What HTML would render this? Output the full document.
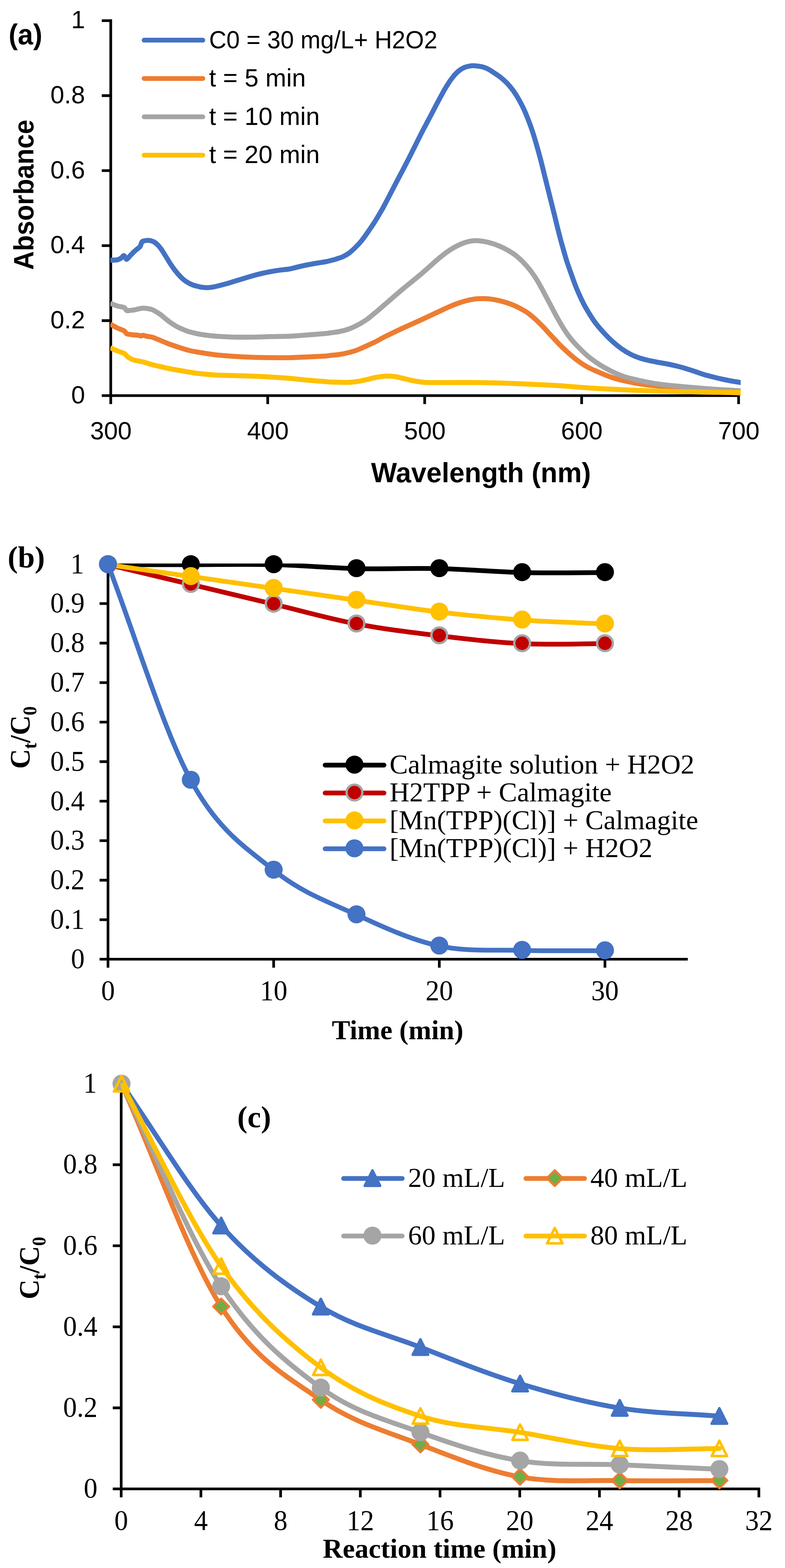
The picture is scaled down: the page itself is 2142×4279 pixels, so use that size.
<!DOCTYPE html>
<html lang="en"><head><meta charset="utf-8"><title>Absorbance spectra and degradation kinetics</title>
<style>html,body{margin:0;padding:0;background:#fff}svg{display:block}.sa{font-family:"Liberation Sans",sans-serif;fill:#000}.se{font-family:"Liberation Serif",serif;fill:#000}.b{font-weight:bold}.ln{fill:none;stroke-linejoin:round;stroke-linecap:butt}.lr{fill:none;stroke-linejoin:round;stroke-linecap:round}.lg{fill:none;stroke-linecap:round}.ax{stroke:#000;fill:none}</style></head><body>
<svg width="2142" height="4279" viewBox="0 0 2142 4279" role="img" aria-label="Three charts: absorbance spectra, and two degradation kinetics plots">
<rect width="2142" height="4279" fill="#fff"/>
<g id="chart-a">
<clipPath id="clipA"><rect x="301" y="0" width="1720" height="1200"/></clipPath>
<g class="ax" stroke-width="7.3">
<path d="M302.2 52.6 V1102.7M277.7 1079.7 H2019.1M277.7 56.3 H302.2M277.7 261 H302.2M277.7 465.7 H302.2M277.7 670.3 H302.2M277.7 875 H302.2M730.5 1079.7 V1102.7M1158.8 1079.7 V1102.7M1587.1 1079.7 V1102.7M2015.4 1079.7 V1102.7"/>
</g>
<g class="sa" font-size="68" text-anchor="end">
<text x="232" y="77.3">1</text>
<text x="232" y="282">0.8</text>
<text x="232" y="486.7">0.6</text>
<text x="232" y="691.3">0.4</text>
<text x="232" y="896">0.2</text>
<text x="232" y="1100.7">0</text>
</g>
<g class="sa" font-size="68" text-anchor="middle">
<text x="302.7" y="1198.5">300</text>
<text x="731" y="1198.5">400</text>
<text x="1159.3" y="1198.5">500</text>
<text x="1587.6" y="1198.5">600</text>
<text x="2015.9" y="1198.5">700</text>
</g>
<g class="ln" stroke-width="13.6" clip-path="url(#clipA)">
<path stroke="#4472C4" d="M301 710C304.2 709.8 315 710 320 709C325 708 328.1 705.9 331 704C333.9 702.1 335.7 697.8 337.5 697.5C339.3 697.2 340.6 700.3 342 702C343.4 703.7 343.8 708.2 346 707.5C348.2 706.8 351.8 701.3 355 698C358.2 694.7 361.7 690.7 365 687.5C368.3 684.3 372.1 681.5 375 679C377.9 676.5 380.4 675.7 382.5 672.5C384.6 669.3 385.4 662.6 387.5 660C389.6 657.4 392.5 657.7 395 657C397.5 656.3 400 656.1 402.5 656C405 655.9 407.1 655.8 410 656.5C412.9 657.2 416.7 658.1 420 660C423.3 661.9 426.7 664.7 430 668C433.3 671.3 436.3 674.8 440 680C443.7 685.2 447.8 692.3 452 699C456.2 705.7 460.8 713.7 465 720C469.2 726.3 472.8 731.6 477 737C481.2 742.4 485.8 748 490 752.5C494.2 757 497.8 760.7 502 764C506.2 767.3 510.8 770.2 515 772.5C519.2 774.8 522.8 776.5 527 778C531.2 779.5 535.8 780.5 540 781.5C544.2 782.5 547.8 783.4 552 784C556.2 784.6 560.8 785 565 785C569.2 785 572.8 784.6 577 784C581.2 783.4 583.7 783 590 781.5C596.3 780 606.7 777.3 615 775C623.3 772.7 631.7 770 640 767.5C648.3 765 656.7 762.5 665 760C673.3 757.5 681.7 754.8 690 752.5C698.3 750.2 706.7 747.9 715 746C723.3 744.1 731.7 742.5 740 741C748.3 739.5 756.7 738.2 765 737C773.3 735.8 781.7 735.5 790 734C798.3 732.5 806.7 729.9 815 728C823.3 726.1 831.7 724.2 840 722.5C848.3 720.8 856.7 719.4 865 718C873.3 716.6 882.2 715.6 890 714C897.8 712.4 907 709.8 912 708.5C917 707.2 915.9 707.4 920 706C924.1 704.6 931.2 702.7 936.7 700C942.2 697.3 947.8 694.2 953.3 690C958.8 685.8 964.4 680.5 970 675C975.6 669.5 981.2 663.5 986.7 656.7C992.2 649.9 997.8 641.9 1003.3 634C1008.8 626.1 1014.4 618 1020 609.3C1025.6 600.6 1031.9 589.9 1036.7 581.7C1041.5 573.5 1041.5 574.2 1049 560C1056.5 545.8 1071 517.6 1082 496.5C1093 475.4 1103.7 455.5 1115 433.3C1126.3 411.1 1141.4 380.2 1150 363.3C1158.6 346.4 1161.2 342.2 1166.7 331.7C1172.2 321.1 1177.8 310.6 1183.3 300C1188.8 289.4 1194.4 278.6 1200 268.3C1205.6 258 1211.2 247.5 1216.7 238.3C1222.2 229.1 1227.8 220.5 1233.3 213.3C1238.8 206.1 1244.4 199.8 1250 195C1255.6 190.2 1261.2 186.8 1266.7 184.3C1272.2 181.8 1278.9 180.8 1283.3 180C1287.7 179.2 1287.7 178.9 1293.3 179.3C1298.9 179.8 1310 181 1316.7 182.7C1323.4 184.4 1327.8 186.4 1333.3 189.3C1338.8 192.2 1344.4 196.3 1350 200C1355.6 203.7 1361.2 207.2 1366.7 211.7C1372.2 216.1 1377.8 220.9 1383.3 226.7C1388.8 232.5 1394.4 238.9 1400 246.7C1405.6 254.5 1411.2 263.3 1416.7 273.3C1422.2 283.3 1427.8 293.9 1433.3 306.7C1438.8 319.5 1445.1 336.1 1450 350C1454.9 363.9 1458.3 375.8 1462.5 390C1466.7 404.2 1470.8 419.2 1475 435C1479.2 450.8 1483.3 468.3 1487.5 485C1491.7 501.7 1495.8 518.3 1500 535C1504.2 551.7 1508.9 570.5 1512.5 585C1516.1 599.5 1518.6 610.3 1521.5 622C1524.4 633.7 1527.4 645.3 1530 655C1532.6 664.7 1534.2 670.2 1537 680C1539.8 689.8 1543.2 702.3 1547 714C1550.8 725.7 1555.3 738.3 1559.5 750C1563.7 761.7 1567.8 773.6 1572 784C1576.2 794.4 1580.3 803.6 1584.5 812.5C1588.7 821.4 1590.8 826.7 1597 837.5C1603.2 848.3 1613.7 865.8 1622 877.5C1630.3 889.2 1638.7 898.3 1647 907.5C1655.3 916.7 1663.7 925 1672 932.5C1680.3 940 1688.7 946.7 1697 952.5C1705.3 958.3 1713.7 963.3 1722 967.5C1730.3 971.7 1738.7 974.8 1747 977.5C1755.3 980.2 1763.7 982.1 1772 984C1780.3 985.9 1788.7 987.4 1797 989C1805.3 990.6 1813.7 991.8 1822 993.5C1830.3 995.2 1838.7 996.9 1847 999C1855.3 1001.1 1863.7 1003.5 1872 1006C1880.3 1008.5 1888.7 1011.2 1897 1014C1905.3 1016.8 1913.7 1020 1922 1022.5C1930.3 1025 1938.7 1026.9 1947 1029C1955.3 1031.1 1963.7 1033.2 1972 1035C1980.3 1036.8 1988.7 1038.5 1997 1040C2005.3 1041.5 2017.8 1043.3 2022 1044"/>
<path stroke="#ED7D31" d="M301 884.5C304.2 886.2 314.3 892.2 320 895C325.7 897.8 331.7 899.5 335 901C338.3 902.5 338.2 902.3 340 904C341.8 905.7 343.5 909.6 346 911C348.5 912.4 351.8 912 355 912.5C358.2 913 361.2 913.6 365 914C368.8 914.4 374.8 914.5 378 915C381.2 915.5 382 917 384 917C386 917 387 914.8 390 915C393 915.2 397.8 917.2 402 918C406.2 918.8 410.7 918.8 415 920C419.3 921.2 423.8 923.3 428 925C432.2 926.7 436 928.3 440 930C444 931.7 447.8 933.3 452 935C456.2 936.7 458.7 937.8 465 940C471.3 942.2 481.7 945.8 490 948.5C498.3 951.2 506.7 953.9 515 956C523.3 958.1 527.5 958.9 540 961C552.5 963.1 573.3 966.6 590 968.5C606.7 970.4 623.3 971.4 640 972.5C656.7 973.6 673.3 974.4 690 975C706.7 975.6 723.3 975.8 740 976C756.7 976.2 773.3 976.3 790 976C806.7 975.7 823.3 974.8 840 974C856.7 973.2 880 972.2 890 971.5C900 970.8 894.2 970.7 900 970C905.8 969.3 916.7 968.8 925 967.5C933.3 966.2 941.7 964.6 950 962.5C958.3 960.4 966.7 958.1 975 955C983.3 951.9 991.7 947.8 1000 944C1008.3 940.2 1016.7 936.7 1025 932.5C1033.3 928.3 1037.5 925.2 1050 919C1062.5 912.8 1083.3 902.8 1100 895C1116.7 887.2 1133.3 880.2 1150 872.5C1166.7 864.8 1187.5 854.8 1200 849C1212.5 843.2 1216.7 841.1 1225 837.5C1233.3 833.9 1241.7 830.4 1250 827.5C1258.3 824.6 1266.7 822 1275 820C1283.3 818 1290.3 816.2 1300 815.5C1309.7 814.8 1322.2 814.5 1333.3 815.5C1344.4 816.5 1355.6 818.9 1366.7 821.7C1377.8 824.5 1388.9 827.9 1400 832.5C1411.1 837.1 1425 844.6 1433.3 849.5C1441.6 854.4 1444.4 857.2 1450 861.7C1455.6 866.2 1461.2 871.4 1466.7 876.7C1472.2 882 1477.8 887.5 1483.3 893.3C1488.8 899.1 1494.4 905.7 1500 911.7C1505.6 917.7 1511.2 923.7 1516.7 929.5C1522.2 935.3 1525 938.8 1533.3 946.7C1541.6 954.6 1555.6 967.8 1566.7 976.7C1577.8 985.6 1588.9 993.5 1600 1000C1611.1 1006.5 1622.2 1010.7 1633.3 1015.5C1644.4 1020.3 1655.6 1025.2 1666.7 1029C1677.8 1032.8 1688.9 1035.8 1700 1038.5C1711.1 1041.2 1722.2 1043.5 1733.3 1045.5C1744.4 1047.5 1755.6 1049.1 1766.7 1050.5C1777.8 1051.9 1789.5 1052.5 1800 1054C1810.5 1055.5 1813.8 1057.7 1830 1059.5C1846.2 1061.3 1877.5 1063.3 1897 1065C1916.5 1066.7 1926.2 1068.2 1947 1069.5C1967.8 1070.8 2009.5 1072 2022 1072.5"/>
<path stroke="#A5A5A5" d="M301 827.5C304.2 828.8 314.3 833.2 320 835C325.7 836.8 331.7 837.2 335 838C338.3 838.8 338.2 838.4 340 840C341.8 841.6 343.5 846.3 346 847.5C348.5 848.7 351.8 847.2 355 847C358.2 846.8 361.2 846.7 365 846C368.8 845.3 373.8 843.8 378 843C382.2 842.2 386 841.2 390 841C394 840.8 397.8 841.3 402 842C406.2 842.7 410.7 843.3 415 845C419.3 846.7 423.8 849.5 428 852C432.2 854.5 436 857 440 860C444 863 447.8 866.7 452 870C456.2 873.3 460.8 877 465 880C469.2 883 472.8 885.5 477 888C481.2 890.5 485.8 893 490 895C494.2 897 497.8 898.3 502 900C506.2 901.7 508.7 903.2 515 905C521.3 906.8 531.7 909.3 540 911C548.3 912.7 556.7 913.9 565 915C573.3 916.1 581.7 916.8 590 917.5C598.3 918.2 606.7 918.6 615 919C623.3 919.4 627.5 919.8 640 920C652.5 920.2 673.3 920.2 690 920C706.7 919.8 723.3 918.9 740 918.5C756.7 918.1 773.3 918.2 790 917.5C806.7 916.8 823.3 915.2 840 914C856.7 912.8 880 910.9 890 910C900 909.1 894.2 909.3 900 908.5C905.8 907.7 916.7 906.7 925 905C933.3 903.3 941.7 901.4 950 898.5C958.3 895.6 966.7 891.8 975 887.5C983.3 883.2 991.7 878.3 1000 872.5C1008.3 866.7 1016.7 859.4 1025 852.5C1033.3 845.6 1037.5 841.8 1050 831C1062.5 820.2 1083.3 802 1100 788C1116.7 774 1133.3 761.2 1150 747C1166.7 732.8 1187.5 713.5 1200 703C1212.5 692.5 1216.7 689.6 1225 684C1233.3 678.4 1241.7 673.5 1250 669.5C1258.3 665.5 1266.7 662.1 1275 660C1283.3 657.9 1290.3 656.4 1300 656.7C1309.7 657 1322.2 658.9 1333.3 661.7C1344.4 664.5 1355.6 668.3 1366.7 673.3C1377.8 678.3 1391.7 686.4 1400 691.7C1408.3 697 1411.2 700 1416.7 705C1422.2 710 1427.8 715.6 1433.3 721.7C1438.8 727.8 1444.4 734.2 1450 741.7C1455.6 749.2 1461.2 757.5 1466.7 766.7C1472.2 775.9 1477.8 786.4 1483.3 796.7C1488.8 807 1494.4 817.8 1500 828.3C1505.6 838.8 1511.2 849.9 1516.7 860C1522.2 870.1 1527.8 879.9 1533.3 889C1538.8 898.1 1544.4 906.8 1550 914.5C1555.6 922.2 1558.4 926 1566.7 935C1575 944 1588.9 958.6 1600 968.3C1611.1 978 1622.2 986 1633.3 993.3C1644.4 1000.6 1655.6 1006.7 1666.7 1012.3C1677.8 1017.9 1688.9 1022.8 1700 1026.7C1711.1 1030.6 1722.2 1033 1733.3 1035.7C1744.4 1038.4 1755.6 1040.9 1766.7 1043C1777.8 1045.1 1789.5 1047 1800 1048.5C1810.5 1050 1822.2 1051.2 1830 1052C1837.8 1052.8 1835.8 1052.5 1847 1053.5C1858.2 1054.5 1880.3 1056.6 1897 1058C1913.7 1059.4 1930.3 1060.8 1947 1062C1963.7 1063.2 1984.5 1064.2 1997 1065C2009.5 1065.8 2017.8 1066.2 2022 1066.5"/>
<path stroke="#FFC000" d="M301 949C304.2 950.4 314.3 955.2 320 957.5C325.7 959.8 331.7 961.8 335 963C338.3 964.2 337.5 963 340 965C342.5 967 345.8 972.1 350 975C354.2 977.9 358.3 980.4 365 982.5C371.7 984.6 381.7 985.4 390 987.5C398.3 989.6 406.7 992.8 415 995C423.3 997.2 431.7 999.1 440 1001C448.3 1002.9 456.7 1004.8 465 1006.5C473.3 1008.2 477.5 1008.9 490 1011C502.5 1013.1 523.3 1016.9 540 1019C556.7 1021.1 573.3 1022.5 590 1023.5C606.7 1024.5 623.3 1024.5 640 1025C656.7 1025.5 673.3 1025.8 690 1026.5C706.7 1027.2 723.3 1028 740 1029C756.7 1030 773.3 1031.1 790 1032.5C806.7 1033.9 823.3 1036 840 1037.5C856.7 1039 880 1040.7 890 1041.5C900 1042.3 894.2 1042.2 900 1042.5C905.8 1042.8 916.7 1042.8 925 1043C933.3 1043.2 941.7 1043.8 950 1043.5C958.3 1043.2 966.7 1042.2 975 1041C983.3 1039.8 991.7 1037.8 1000 1036C1008.3 1034.2 1016.7 1031.6 1025 1030C1033.3 1028.4 1043.3 1027.1 1050 1026.5C1056.7 1025.9 1060 1026.2 1065 1026.5C1070 1026.8 1074.2 1027 1080 1028C1085.8 1029 1092.5 1030.8 1100 1032.5C1107.5 1034.2 1116.7 1036.8 1125 1038.5C1133.3 1040.2 1141.7 1041.6 1150 1042.5C1158.3 1043.4 1150 1043.8 1175 1044C1200 1044.2 1262.5 1043.6 1300 1044C1337.5 1044.4 1366.7 1045.3 1400 1046.5C1433.3 1047.7 1475.5 1049.8 1500 1051C1524.5 1052.2 1530.8 1052.8 1547 1054C1563.2 1055.2 1580.3 1056.8 1597 1058C1613.7 1059.2 1630.3 1060.1 1647 1061C1663.7 1061.9 1680.3 1062.8 1697 1063.5C1713.7 1064.2 1730.3 1064.9 1747 1065.5C1763.7 1066.1 1780.3 1066.5 1797 1067C1813.7 1067.5 1830.3 1068.1 1847 1068.5C1863.7 1068.9 1880.3 1069.2 1897 1069.5C1913.7 1069.8 1926.2 1070.2 1947 1070.5C1967.8 1070.8 2009.5 1070.9 2022 1071"/>
</g>
<g class="lg" stroke-width="13">
<path stroke="#4472C4" d="M393.2 109.6 H553.5"/>
<path stroke="#ED7D31" d="M393.2 214.2 H553.5"/>
<path stroke="#A5A5A5" d="M393.2 318.8 H553.5"/>
<path stroke="#FFC000" d="M393.2 423.4 H553.5"/>
</g>
<g class="sa" font-size="68">
<text x="570.5" y="131.5" textLength="623" lengthAdjust="spacingAndGlyphs">C0 = 30 mg/L+ H2O2</text>
<text x="570.5" y="236" textLength="264" lengthAdjust="spacingAndGlyphs">t = 5 min</text>
<text x="570.5" y="340.5" textLength="302" lengthAdjust="spacingAndGlyphs">t = 10 min</text>
<text x="570.5" y="445" textLength="302" lengthAdjust="spacingAndGlyphs">t = 20 min</text>
</g>
<text class="sa b" font-size="77" x="23.5" y="120.5" textLength="92" lengthAdjust="spacingAndGlyphs">(a)</text>
<text class="sa b" font-size="76" text-anchor="middle" textLength="410" lengthAdjust="spacingAndGlyphs" transform="translate(90.5 531.5) rotate(-90)">Absorbance</text>
<text class="sa b" font-size="76" text-anchor="middle" x="1312.5" y="1316" textLength="600" lengthAdjust="spacingAndGlyphs">Wavelength (nm)</text>
</g>
<g id="chart-b">
<clipPath id="clipB"><rect x="292.5" y="1537.7" width="1900" height="1200"/></clipPath>
<g class="ax" stroke-width="7.3">
<path d="M294.7 1535.6 V2640.7M271.7 2617.7 H1876.7M271.7 1539.3 H294.7M271.7 1647.1 H294.7M271.7 1755 H294.7M271.7 1862.8 H294.7M271.7 1970.7 H294.7M271.7 2078.5 H294.7M271.7 2186.3 H294.7M271.7 2294.2 H294.7M271.7 2402 H294.7M271.7 2509.9 H294.7M746.7 2617.7 V2640.7M1198.7 2617.7 V2640.7M1650.7 2617.7 V2640.7"/>
</g>
<g class="se" font-size="75" text-anchor="end">
<text transform="translate(229.5 1563.5) scale(1 1.04)">1</text>
<text transform="translate(231 1671.3) scale(1 1.04)">0.9</text>
<text transform="translate(231 1779.2) scale(1 1.04)">0.8</text>
<text transform="translate(231 1887) scale(1 1.04)">0.7</text>
<text transform="translate(231 1994.9) scale(1 1.04)">0.6</text>
<text transform="translate(231 2102.7) scale(1 1.04)">0.5</text>
<text transform="translate(231 2210.5) scale(1 1.04)">0.4</text>
<text transform="translate(231 2318.4) scale(1 1.04)">0.3</text>
<text transform="translate(231 2426.2) scale(1 1.04)">0.2</text>
<text transform="translate(231 2534.1) scale(1 1.04)">0.1</text>
<text transform="translate(231 2641.9) scale(1 1.04)">0</text>
</g>
<g class="se" font-size="75" text-anchor="middle">
<text transform="translate(294.7 2729.3) scale(1 1.04)">0</text>
<text transform="translate(746.7 2729.3) scale(1 1.04)">10</text>
<text transform="translate(1198.7 2729.3) scale(1 1.04)">20</text>
<text transform="translate(1650.7 2729.3) scale(1 1.04)">30</text>
</g>
<path class="lr" stroke="#000" stroke-width="13" clip-path="url(#clipB)" d="M294.7 1540.9C370 1540.9 445.4 1540.9 520.7 1540.9C596 1540.9 671.4 1539.1 746.7 1540.9C822 1542.7 897.4 1549.9 972.7 1551.7C1048 1553.5 1123.4 1549.9 1198.7 1551.7C1274 1553.5 1349.4 1560.7 1424.7 1562.5C1500 1564.3 1575.4 1562.5 1650.7 1562.5"/>
<circle cx="294.7" cy="1539.7" r="24.6" fill="#000"/>
<circle cx="520.7" cy="1539.7" r="24.6" fill="#000"/>
<circle cx="746.7" cy="1539.7" r="24.6" fill="#000"/>
<circle cx="972.7" cy="1550.5" r="24.6" fill="#000"/>
<circle cx="1198.7" cy="1550.5" r="24.6" fill="#000"/>
<circle cx="1424.7" cy="1561.3" r="24.6" fill="#000"/>
<circle cx="1650.7" cy="1561.3" r="24.6" fill="#000"/>
<path class="lr" stroke="#C00000" stroke-width="13" clip-path="url(#clipB)" d="M294.7 1540.9C370 1558.9 445.4 1576.8 520.7 1594.8C596 1612.8 671.4 1630.8 746.7 1648.7C822 1666.7 897.4 1688.3 972.7 1702.7C1048 1717 1123.4 1726 1198.7 1735C1274 1744 1349.4 1753 1424.7 1756.6C1500 1760.2 1575.4 1756.6 1650.7 1756.6"/>
<circle cx="294.7" cy="1539.7" r="21.5" fill="#C00000" stroke="#A5A5A5" stroke-width="6.3"/>
<circle cx="520.7" cy="1593.6" r="21.5" fill="#C00000" stroke="#A5A5A5" stroke-width="6.3"/>
<circle cx="746.7" cy="1647.5" r="21.5" fill="#C00000" stroke="#A5A5A5" stroke-width="6.3"/>
<circle cx="972.7" cy="1701.5" r="21.5" fill="#C00000" stroke="#A5A5A5" stroke-width="6.3"/>
<circle cx="1198.7" cy="1733.8" r="21.5" fill="#C00000" stroke="#A5A5A5" stroke-width="6.3"/>
<circle cx="1424.7" cy="1755.4" r="21.5" fill="#C00000" stroke="#A5A5A5" stroke-width="6.3"/>
<circle cx="1650.7" cy="1755.4" r="21.5" fill="#C00000" stroke="#A5A5A5" stroke-width="6.3"/>
<path class="lr" stroke="#FFC000" stroke-width="13" clip-path="url(#clipB)" d="M294.7 1540.9C370 1551.7 445.4 1562.5 520.7 1573.3C596 1584 671.4 1594.8 746.7 1605.6C822 1616.4 897.4 1627.2 972.7 1638C1048 1648.7 1123.4 1661.3 1198.7 1670.3C1274 1679.3 1349.4 1686.5 1424.7 1691.9C1500 1697.3 1575.4 1699.1 1650.7 1702.7"/>
<circle cx="294.7" cy="1539.7" r="24.6" fill="#FFC000"/>
<circle cx="520.7" cy="1572.1" r="24.6" fill="#FFC000"/>
<circle cx="746.7" cy="1604.4" r="24.6" fill="#FFC000"/>
<circle cx="972.7" cy="1636.8" r="24.6" fill="#FFC000"/>
<circle cx="1198.7" cy="1669.1" r="24.6" fill="#FFC000"/>
<circle cx="1424.7" cy="1690.7" r="24.6" fill="#FFC000"/>
<circle cx="1650.7" cy="1701.5" r="24.6" fill="#FFC000"/>
<path class="lr" stroke="#4472C4" stroke-width="13" clip-path="url(#clipB)" d="M294.7 1540.9C370 1737 445.4 1990.2 520.7 2129.2C596 2268.1 671.4 2313.3 746.7 2374.5C822 2435.7 897.4 2461.9 972.7 2496.4C1048 2530.9 1123.4 2565.4 1198.7 2581.6C1274 2597.7 1349.4 2591.3 1424.7 2593.4C1500 2595.6 1575.4 2594.1 1650.7 2594.5"/>
<circle cx="294.7" cy="1539.7" r="24.6" fill="#4472C4"/>
<circle cx="520.7" cy="2128" r="24.6" fill="#4472C4"/>
<circle cx="746.7" cy="2373.3" r="24.6" fill="#4472C4"/>
<circle cx="972.7" cy="2495.2" r="24.6" fill="#4472C4"/>
<circle cx="1198.7" cy="2580.4" r="24.6" fill="#4472C4"/>
<circle cx="1424.7" cy="2592.2" r="24.6" fill="#4472C4"/>
<circle cx="1650.7" cy="2593.3" r="24.6" fill="#4472C4"/>
<path class="lg" stroke="#000" stroke-width="13" d="M887.2 2088 H1047.8"/>
<circle cx="967.2" cy="2086.7" r="24.6" fill="#000"/>
<text class="se" font-size="75" x="1063" y="2110.7">Calmagite solution + H2O2</text>
<path class="lg" stroke="#C00000" stroke-width="13" d="M887.2 2164.1 H1047.8"/>
<circle cx="967.2" cy="2162.8" r="21.5" fill="#C00000" stroke="#A5A5A5" stroke-width="6.3"/>
<text class="se" font-size="75" x="1063" y="2186.8">H2TPP + Calmagite</text>
<path class="lg" stroke="#FFC000" stroke-width="13" d="M887.2 2240.2 H1047.8"/>
<circle cx="967.2" cy="2238.9" r="24.6" fill="#FFC000"/>
<text class="se" font-size="75" x="1063" y="2262.9">[Mn(TPP)(Cl)] + Calmagite</text>
<path class="lg" stroke="#4472C4" stroke-width="13" d="M887.2 2316.3 H1047.8"/>
<circle cx="967.2" cy="2315" r="24.6" fill="#4472C4"/>
<text class="se" font-size="75" x="1063" y="2339">[Mn(TPP)(Cl)] + H2O2</text>
<text class="se b" font-size="83" x="21" y="1548">(b)</text>
<text class="se b" font-size="75" transform="translate(81.4 2098) rotate(-90) scale(1 1.05)">C<tspan font-size="50" dy="16.6">t</tspan><tspan dy="-16.6">/C</tspan><tspan font-size="50" dy="16.6">0</tspan></text>
<text class="se b" font-size="75" text-anchor="middle" x="1085" y="2836">Time (min)</text>
</g>
<g id="chart-c">
<clipPath id="clipC"><rect x="329.1" y="2955.1" width="1900" height="1300"/></clipPath>
<g class="ax" stroke-width="7.3">
<path d="M330.7 2953.7 V4086.2M307.7 4063.2 H2074.3M307.7 2957.3 H330.7M307.7 3178.5 H330.7M307.7 3399.7 H330.7M307.7 3620.8 H330.7M307.7 3842 H330.7M548.2 4063.2 V4086.2M765.7 4063.2 V4086.2M983.2 4063.2 V4086.2M1200.7 4063.2 V4086.2M1418.2 4063.2 V4086.2M1635.7 4063.2 V4086.2M1853.2 4063.2 V4086.2M2070.7 4063.2 V4086.2"/>
</g>
<g class="se" font-size="75" text-anchor="end">
<text transform="translate(264.5 2981.1) scale(1 1.04)">1</text>
<text transform="translate(266 3202.3) scale(1 1.04)">0.8</text>
<text transform="translate(266 3423.5) scale(1 1.04)">0.6</text>
<text transform="translate(266 3644.6) scale(1 1.04)">0.4</text>
<text transform="translate(266 3865.8) scale(1 1.04)">0.2</text>
<text transform="translate(266 4087) scale(1 1.04)">0</text>
</g>
<g class="se" font-size="75" text-anchor="middle">
<text transform="translate(330.7 4174.8) scale(1 1.04)">0</text>
<text transform="translate(548.2 4174.8) scale(1 1.04)">4</text>
<text transform="translate(765.7 4174.8) scale(1 1.04)">8</text>
<text transform="translate(983.2 4174.8) scale(1 1.04)">12</text>
<text transform="translate(1200.7 4174.8) scale(1 1.04)">16</text>
<text transform="translate(1418.2 4174.8) scale(1 1.04)">20</text>
<text transform="translate(1635.7 4174.8) scale(1 1.04)">24</text>
<text transform="translate(1853.2 4174.8) scale(1 1.04)">28</text>
<text transform="translate(2070.7 4174.8) scale(1 1.04)">32</text>
</g>
<path class="lr" stroke="#4472C4" stroke-width="13.4" clip-path="url(#clipC)" d="M331.6 2957.8C422.2 3086.8 512.9 3243.5 603.5 3344.9C694.1 3446.2 784.7 3510.8 875.4 3566C966 3621.3 1056.6 3641.6 1147.2 3676.6C1237.9 3711.7 1328.5 3748.5 1419.1 3776.2C1509.7 3803.8 1600.4 3827.8 1691 3842.5C1781.6 3857.3 1872.2 3857.3 1962.9 3864.6"/>
<path d="M603.5 3323.5 L624.4 3365.3 L582.6 3365.3 Z" fill="#4472C4" stroke="#4472C4" stroke-width="7" stroke-linejoin="round"/>
<path d="M875.4 3544.6 L896.2 3586.4 L854.5 3586.4 Z" fill="#4472C4" stroke="#4472C4" stroke-width="7" stroke-linejoin="round"/>
<path d="M1147.2 3655.2 L1168.1 3697 L1126.3 3697 Z" fill="#4472C4" stroke="#4472C4" stroke-width="7" stroke-linejoin="round"/>
<path d="M1419.1 3754.8 L1440 3796.6 L1398.2 3796.6 Z" fill="#4472C4" stroke="#4472C4" stroke-width="7" stroke-linejoin="round"/>
<path d="M1691 3821.1 L1711.9 3862.9 L1670.1 3862.9 Z" fill="#4472C4" stroke="#4472C4" stroke-width="7" stroke-linejoin="round"/>
<path d="M1962.9 3843.2 L1983.8 3885 L1942 3885 Z" fill="#4472C4" stroke="#4472C4" stroke-width="7" stroke-linejoin="round"/>
<path class="lr" stroke="#ED7D31" stroke-width="13.4" clip-path="url(#clipC)" d="M331.6 2957.8C422.2 3160.5 512.9 3422.3 603.5 3566C694.1 3709.8 784.7 3757.7 875.4 3820.4C966 3883.1 1056.6 3907 1147.2 3942.1C1237.9 3977.1 1328.5 4014.1 1419.1 4030.5C1509.7 4046.9 1600.4 4038.8 1691 4040.5C1781.6 4042.1 1872.2 4040.5 1962.9 4040.5"/>
<path d="M603.5 3544 L625 3565.5 L603.5 3587 L582 3565.5 Z" fill="#70AD47" stroke="#ED7D31" stroke-width="6" stroke-linejoin="round"/>
<path d="M875.4 3798.4 L896.9 3819.9 L875.4 3841.4 L853.9 3819.9 Z" fill="#70AD47" stroke="#ED7D31" stroke-width="6" stroke-linejoin="round"/>
<path d="M1147.2 3920.1 L1168.7 3941.6 L1147.2 3963.1 L1125.7 3941.6 Z" fill="#70AD47" stroke="#ED7D31" stroke-width="6" stroke-linejoin="round"/>
<path d="M1419.1 4008.5 L1440.6 4030 L1419.1 4051.5 L1397.6 4030 Z" fill="#70AD47" stroke="#ED7D31" stroke-width="6" stroke-linejoin="round"/>
<path d="M1691 4018.5 L1712.5 4040 L1691 4061.5 L1669.5 4040 Z" fill="#70AD47" stroke="#ED7D31" stroke-width="6" stroke-linejoin="round"/>
<path d="M1962.9 4018.5 L1984.4 4040 L1962.9 4061.5 L1941.4 4040 Z" fill="#70AD47" stroke="#ED7D31" stroke-width="6" stroke-linejoin="round"/>
<path class="lr" stroke="#A5A5A5" stroke-width="13.4" clip-path="url(#clipC)" d="M331.6 2957.8C422.2 3142.1 512.9 3372.5 603.5 3510.8C694.1 3649 784.7 3720.9 875.4 3787.2C966 3853.6 1056.6 3875.7 1147.2 3908.9C1237.9 3942.1 1328.5 3971.5 1419.1 3986.3C1509.7 4001 1600.4 3993.5 1691 3997.3C1781.6 4001.2 1872.2 4005.5 1962.9 4009.5"/>
<circle cx="331.6" cy="2957.3" r="24.6" fill="#A5A5A5"/>
<circle cx="603.5" cy="3510.2" r="24.6" fill="#A5A5A5"/>
<circle cx="875.4" cy="3786.7" r="24.6" fill="#A5A5A5"/>
<circle cx="1147.2" cy="3908.4" r="24.6" fill="#A5A5A5"/>
<circle cx="1419.1" cy="3985.8" r="24.6" fill="#A5A5A5"/>
<circle cx="1691" cy="3996.8" r="24.6" fill="#A5A5A5"/>
<circle cx="1962.9" cy="4009" r="24.6" fill="#A5A5A5"/>
<path class="lr" stroke="#FFC000" stroke-width="13.4" clip-path="url(#clipC)" d="M331.6 2957.8C422.2 3123.7 512.9 3326.4 603.5 3455.5C694.1 3584.5 784.7 3663.7 875.4 3731.9C966 3800.1 1056.6 3835.1 1147.2 3864.6C1237.9 3894.1 1328.5 3894.1 1419.1 3908.9C1509.7 3923.6 1600.4 3945.7 1691 3953.1C1781.6 3960.5 1872.2 3953.1 1962.9 3953.1"/>
<path d="M331.6 2936.4 L352.5 2978.2 L310.7 2978.2 Z" fill="none" stroke="#FFC000" stroke-width="7" stroke-linejoin="round"/>
<path d="M603.5 3434.1 L624.4 3475.9 L582.6 3475.9 Z" fill="none" stroke="#FFC000" stroke-width="7" stroke-linejoin="round"/>
<path d="M875.4 3710.5 L896.2 3752.3 L854.5 3752.3 Z" fill="none" stroke="#FFC000" stroke-width="7" stroke-linejoin="round"/>
<path d="M1147.2 3843.2 L1168.1 3885 L1126.3 3885 Z" fill="none" stroke="#FFC000" stroke-width="7" stroke-linejoin="round"/>
<path d="M1419.1 3887.5 L1440 3929.3 L1398.2 3929.3 Z" fill="none" stroke="#FFC000" stroke-width="7" stroke-linejoin="round"/>
<path d="M1691 3931.7 L1711.9 3973.5 L1670.1 3973.5 Z" fill="none" stroke="#FFC000" stroke-width="7" stroke-linejoin="round"/>
<path d="M1962.9 3931.7 L1983.8 3973.5 L1942 3973.5 Z" fill="none" stroke="#FFC000" stroke-width="7" stroke-linejoin="round"/>
<path class="lg" stroke="#4472C4" stroke-width="13" d="M937.5 3216 h160"/>
<path d="M1016.3 3194.1 L1037.2 3235.9 L995.4 3235.9 Z" fill="#4472C4" stroke="#4472C4" stroke-width="7" stroke-linejoin="round"/>
<text class="se" font-size="75" x="1113.5" y="3238.5">20 mL/L</text>
<path class="lg" stroke="#ED7D31" stroke-width="13" d="M1435 3216 h160"/>
<path d="M1513.8 3193.5 L1535.3 3215 L1513.8 3236.5 L1492.3 3215 Z" fill="#70AD47" stroke="#ED7D31" stroke-width="6" stroke-linejoin="round"/>
<text class="se" font-size="75" x="1611" y="3238.5">40 mL/L</text>
<path class="lg" stroke="#A5A5A5" stroke-width="13" d="M937.5 3373 h160"/>
<circle cx="1016.3" cy="3372" r="24.6" fill="#A5A5A5"/>
<text class="se" font-size="75" x="1113.5" y="3395.5">60 mL/L</text>
<path class="lg" stroke="#FFC000" stroke-width="13" d="M1435 3373 h160"/>
<path d="M1513.8 3351.1 L1534.7 3392.9 L1492.9 3392.9 Z" fill="none" stroke="#FFC000" stroke-width="7" stroke-linejoin="round"/>
<text class="se" font-size="75" x="1611" y="3395.5">80 mL/L</text>
<text class="se b" font-size="83" x="647.5" y="3076">(c)</text>
<text class="se b" font-size="75" transform="translate(106.4 3545.8) rotate(-90) scale(1 1.05)">C<tspan font-size="50" dy="16.6">t</tspan><tspan dy="-16.6">/C</tspan><tspan font-size="50" dy="16.6">0</tspan></text>
<text class="se b" font-size="75" text-anchor="middle" x="1199.5" y="4251">Reaction time (min)</text>
</g>
</svg></body></html>
